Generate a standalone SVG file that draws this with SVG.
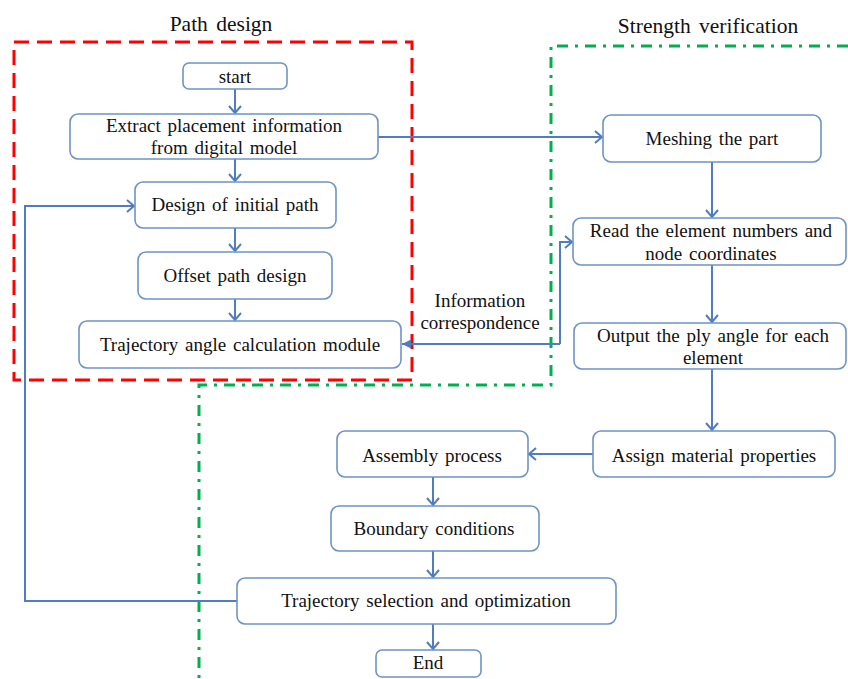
<svg xmlns="http://www.w3.org/2000/svg" width="848" height="679" viewBox="0 0 848 679">
<style>
.box{fill:#fff;stroke:#6F93C4;stroke-width:1.6}
.t{font-family:"Liberation Serif","Times New Roman",serif;font-size:19px;fill:#111;text-anchor:middle;word-spacing:2px}
.title{font-family:"Liberation Serif","Times New Roman",serif;font-size:21.5px;fill:#111;text-anchor:middle;word-spacing:3px}
.c{fill:none;stroke:#4F7DBF;stroke-width:2}
.red{fill:none;stroke:#FF0000;stroke-width:3;stroke-dasharray:15 8}
.green{fill:none;stroke:#00B050;stroke-width:3;stroke-dasharray:11 7 3 7}
</style>
<defs>
<marker id="a" markerUnits="userSpaceOnUse" markerWidth="12" markerHeight="14" refX="9" refY="7" orient="auto">
<path d="M2,1 L9,7 L2,13" fill="none" stroke="#4F7DBF" stroke-width="2"/>
</marker>
<marker id="f" markerUnits="userSpaceOnUse" markerWidth="12" markerHeight="12" refX="10" refY="6" orient="auto">
<path d="M1,1.5 L10,6 L1,10.5 Z" fill="#4F7DBF"/>
</marker>
</defs>

<g id="frames">
<rect class="red" x="14" y="42" width="398" height="338"/>
<path class="green" d="M848,46 H551 V385 H199 V679"/>
<text class="title" x="221" y="31">Path design</text>
<text class="title" x="708" y="33">Strength verification</text>
</g>

<g id="connectors">
<line class="c" x1="235" y1="89" x2="235" y2="113" marker-end="url(#a)"/>
<line class="c" x1="235" y1="159" x2="235" y2="181" marker-end="url(#a)"/>
<line class="c" x1="235" y1="228" x2="235" y2="251" marker-end="url(#a)"/>
<line class="c" x1="235" y1="299" x2="235" y2="320" marker-end="url(#a)"/>
<path class="c" d="M237,601 H25 V206 H134" marker-end="url(#a)"/>
<line class="c" x1="378" y1="137" x2="602" y2="137" marker-end="url(#a)"/>
<line class="c" x1="712" y1="162" x2="712" y2="217" marker-end="url(#a)"/>
<line class="c" x1="712" y1="265" x2="712" y2="322" marker-end="url(#a)"/>
<line class="c" x1="712" y1="369" x2="712" y2="430" marker-end="url(#a)"/>
<line class="c" x1="593" y1="454" x2="529" y2="454" marker-end="url(#a)"/>
<line class="c" x1="433" y1="477" x2="433" y2="505" marker-end="url(#a)"/>
<line class="c" x1="433" y1="551" x2="433" y2="577" marker-end="url(#a)"/>
<line class="c" x1="433" y1="624" x2="433" y2="649" marker-end="url(#a)"/>
<path class="c" d="M560,344 V242 H572" marker-end="url(#a)"/>
<path class="c" d="M560,344 H402" marker-end="url(#f)"/>
<text class="t" x="480" y="307">Information</text>
<text class="t" x="480" y="329">correspondence</text>
</g>

<g id="start">
<rect class="box" x="183" y="63" width="104" height="26" rx="6"/>
<text class="t" x="235" y="83">start</text>
</g>
<g id="extract">
<rect class="box" x="70" y="114" width="308" height="45" rx="8"/>
<text class="t" x="224" y="132">Extract placement information</text>
<text class="t" x="224" y="154">from digital model</text>
</g>
<g id="design">
<rect class="box" x="135" y="182" width="201" height="46" rx="8"/>
<text class="t" x="235" y="211">Design of initial path</text>
</g>
<g id="offset">
<rect class="box" x="138" y="252" width="194" height="47" rx="8"/>
<text class="t" x="235" y="282">Offset path design</text>
</g>
<g id="trajangle">
<rect class="box" x="79" y="321" width="322" height="47" rx="8"/>
<text class="t" x="240" y="351">Trajectory angle calculation module</text>
</g>
<g id="meshing">
<rect class="box" x="603" y="115" width="218" height="47" rx="8"/>
<text class="t" x="712" y="145">Meshing the part</text>
</g>
<g id="read">
<rect class="box" x="573" y="218" width="273" height="47" rx="8"/>
<text class="t" x="711" y="237">Read the element numbers and</text>
<text class="t" x="711" y="260">node coordinates</text>
</g>
<g id="output">
<rect class="box" x="574" y="323" width="272" height="46" rx="8"/>
<text class="t" x="713" y="342">Output the ply angle  for each</text>
<text class="t" x="713" y="364">element</text>
</g>
<g id="assign">
<rect class="box" x="593" y="431" width="242" height="46" rx="8"/>
<text class="t" x="714" y="462">Assign material properties</text>
</g>
<g id="assembly">
<rect class="box" x="337" y="431" width="191" height="46" rx="8"/>
<text class="t" x="432" y="462">Assembly process</text>
</g>
<g id="boundary">
<rect class="box" x="331" y="506" width="208" height="45" rx="8"/>
<text class="t" x="434" y="535">Boundary conditions</text>
</g>
<g id="trajsel">
<rect class="box" x="237" y="578" width="379" height="46" rx="8"/>
<text class="t" x="426" y="607">Trajectory selection and optimization</text>
</g>
<g id="end">
<rect class="box" x="376" y="650" width="105" height="27" rx="6"/>
<text class="t" x="428" y="669">End</text>
</g>
</svg>
